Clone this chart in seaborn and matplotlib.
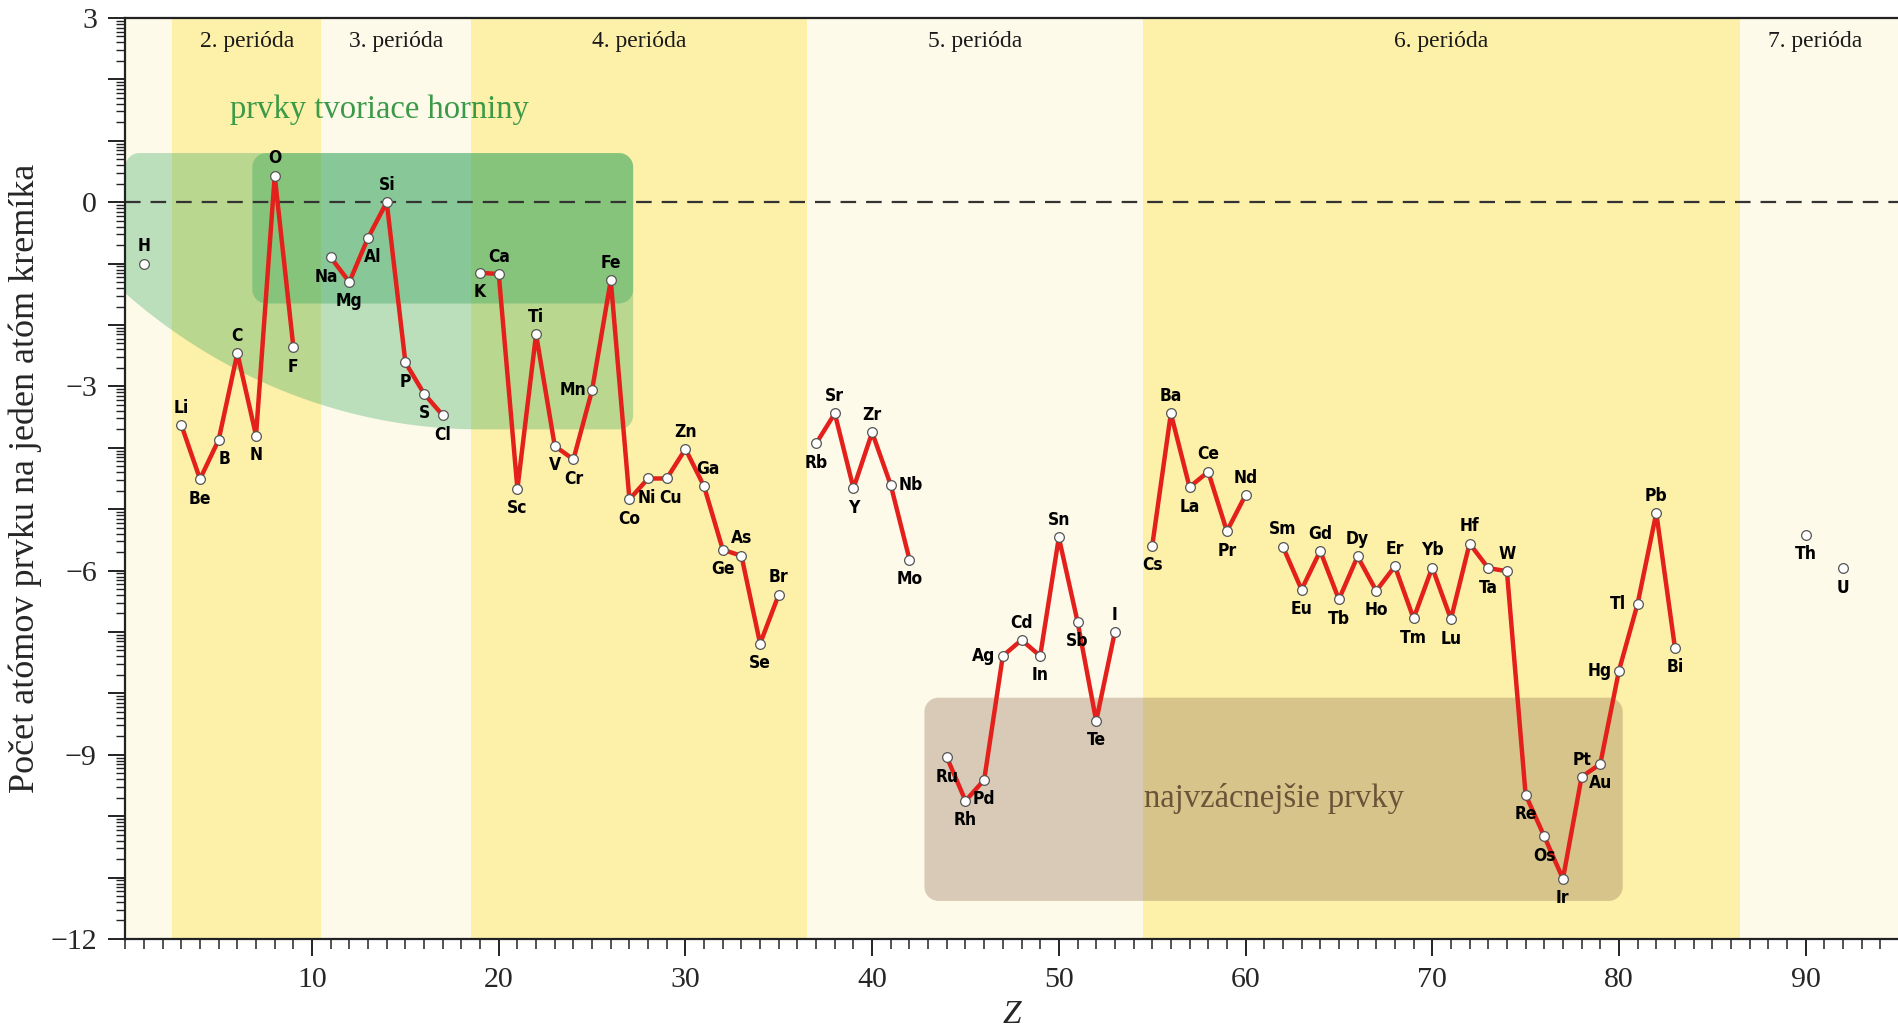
import numpy as np
import pandas as pd
import matplotlib
matplotlib.use("Agg")
import matplotlib.pyplot as plt
import seaborn as sns
from matplotlib import font_manager
from matplotlib.patches import Polygon
from matplotlib.ticker import FixedLocator, MultipleLocator, FuncFormatter

# atomic numbers, symbols and log10(atoms per one Si atom)
z = [1,
     3, 4, 5, 6, 7, 8, 9,
     11, 12, 13, 14, 15, 16, 17,
     19, 20, 21, 22, 23, 24, 25, 26, 27, 28, 29, 30, 31, 32, 33, 34, 35,
     37, 38, 39, 40, 41, 42,
     44, 45, 46, 47, 48, 49, 50, 51, 52, 53,
     55, 56, 57, 58, 59, 60,
     62, 63, 64, 65, 66, 67, 68, 69, 70, 71, 72, 73, 74, 75, 76, 77, 78,
     79, 80, 81, 82, 83,
     90, 92]
symbols = ["H",
           "Li", "Be", "B", "C", "N", "O", "F",
           "Na", "Mg", "Al", "Si", "P", "S", "Cl",
           "K", "Ca", "Sc", "Ti", "V", "Cr", "Mn", "Fe", "Co", "Ni", "Cu", "Zn",
           "Ga", "Ge", "As", "Se", "Br",
           "Rb", "Sr", "Y", "Zr", "Nb", "Mo",
           "Ru", "Rh", "Pd", "Ag", "Cd", "In", "Sn", "Sb", "Te", "I",
           "Cs", "Ba", "La", "Ce", "Pr", "Nd",
           "Sm", "Eu", "Gd", "Tb", "Dy", "Ho", "Er", "Tm", "Yb", "Lu", "Hf",
           "Ta", "W", "Re", "Os", "Ir", "Pt", "Au", "Hg", "Tl", "Pb", "Bi",
           "Th", "U"]
values = [-1.00,
          -3.63, -4.51, -3.87, -2.46, -3.80, 0.43, -2.36,
          -0.90, -1.30, -0.58, 0.00, -2.61, -3.12, -3.47,
          -1.15, -1.17, -4.67, -2.15, -3.97, -4.19, -3.06, -1.27, -4.84, -4.50,
          -4.50, -4.02, -4.63, -5.66, -5.76, -7.19, -6.39,
          -3.93, -3.44, -4.66, -3.75, -4.61, -5.82,
          -9.04, -9.75, -9.41, -7.39, -7.13, -7.39, -5.46, -6.83, -8.45, -7.00,
          -5.60, -3.44, -4.64, -4.39, -5.36, -4.77,
          -5.61, -6.31, -5.68, -6.47, -5.77, -6.33, -5.93, -6.78, -5.95, -6.79,
          -5.56, -5.96, -6.01, -9.65, -10.33, -11.02, -9.36, -9.15, -7.63,
          -6.54, -5.06, -7.26,
          -5.42, -5.96]

# period bands
band_edges = [0, 2.5, 10.5, 18.5, 36.5, 54.5, 86.5, 95]
period_names = ["2. perióda", "3. perióda", "4. perióda", "5. perióda",
                "6. perióda", "7. perióda"]
period_label_x = [6.5, 14.5, 27.5, 45.5, 70.5, 90.5]

x_ticks = [10, 20, 30, 40, 50, 60, 70, 80, 90]
y_tick_labels = [-12, -9, -6, -3, 0, 3]

# label placement (style only)
below = {"Be", "B", "N", "F", "Na", "Mg", "Al", "P", "S", "Cl", "K", "Sc", "V",
         "Cr", "Co", "Ni", "Cu", "Ge", "Se", "Rb", "Y", "Mo", "Ru", "Rh", "Pd",
         "In", "Sb", "Te", "Cs", "La", "Pr", "Eu", "Tb", "Ho", "Tm", "Lu", "Ta",
         "Re", "Os", "Ir", "Au", "Bi", "Th", "U"}
left = {"Mn", "Ag", "Hg", "Tl"}
right = {"Nb"}
nudge = {"B": 4, "Ni": -1, "Cu": 3, "Ga": 3, "Al": 3, "Na": -3}

sns.set_style("ticks")
serif = ["Liberation Serif", "DejaVu Serif"]
plt.rcParams["font.family"] = serif
plt.rcParams["axes.unicode_minus"] = True

installed = {f.name for f in font_manager.fontManager.ttflist}
if "Liberation Sans Narrow" in installed:
    label_font = dict(family=["Liberation Sans Narrow", "DejaVu Sans"], fontsize=14)
else:
    label_font = dict(family=["DejaVu Sans"], fontstretch="condensed", fontsize=12.5)

fig = plt.figure(figsize=(18.99, 10.28), dpi=100)
ax = fig.add_axes([0.066, 0.0866, 0.934, 0.8959])
ax.set_xlim(0, 95)
ax.set_ylim(-12, 3)

# background bands
band_colors = ["#fefaea", "#fdf0a9"]
for i in range(len(band_edges) - 1):
    ax.axvspan(band_edges[i], band_edges[i + 1], color=band_colors[i % 2],
               lw=0, zorder=0)

# pixel-size of the axes in data units, for rounded corners
px_x = 95 / (0.934 * 1899)
px_y = 15 / (0.8959 * 1028)


def corner(cx, cy, rx, ry, a0, a1, n=12):
    t = np.linspace(np.radians(a0), np.radians(a1), n)
    return list(zip(cx + rx * np.cos(t), cy + ry * np.sin(t)))


def rounded_box(x0, x1, y0, y1, r=14):
    rx, ry = r * px_x, r * px_y
    pts = []
    pts += corner(x1 - rx, y0 + ry, rx, ry, -90, 0)
    pts += corner(x1 - rx, y1 - ry, rx, ry, 0, 90)
    pts += corner(x0 + rx, y1 - ry, rx, ry, 90, 180)
    pts += corner(x0 + rx, y0 + ry, rx, ry, 180, 270)
    return pts


green = "#2ea35a"
# rock-forming elements: large light shape with curved lower-left edge
rx, ry = 14 * px_x, 14 * px_y
gx1, gy0, gy1 = 27.2, -3.7, 0.8
curve_z = np.linspace(0, 19, 60)
curve_y = 6.1 - 9.8 * np.sqrt(1 - ((curve_z - 19) / 30) ** 2)
shape = []
shape += corner(rx, gy1 - ry, rx, ry, 90, 180)
shape += list(zip(curve_z, curve_y))
shape += corner(gx1 - rx, gy0 + ry, rx, ry, -90, 0)
shape += corner(gx1 - rx, gy1 - ry, rx, ry, 0, 90)
ax.add_patch(Polygon(shape, closed=True, fc=green, alpha=0.32, lw=0, zorder=1))
ax.add_patch(Polygon(rounded_box(6.8, gx1, -1.65, gy1), closed=True, fc=green,
                     alpha=0.36, lw=0, zorder=1))

# rarest elements box
ax.add_patch(Polygon(rounded_box(42.8, 80.2, -11.38, -8.07), closed=True,
                     fc="#8c6b4c", alpha=0.33, lw=0, zorder=1))

ax.axhline(0, color="#333333", lw=1.6, ls=(0, (7, 4.5)), zorder=2)

# abundance line, split where elements are missing
df = pd.DataFrame({"Z": z, "value": values, "symbol": symbols})
df["segment"] = (df["Z"].diff() != 1).cumsum()
sns.lineplot(data=df, x="Z", y="value", units="segment", estimator=None,
             sort=False, color="#e3201b", lw=3.2, marker="o", markersize=7,
             markerfacecolor="white", markeredgecolor="#555555",
             markeredgewidth=0.9, legend=False, ax=ax, zorder=3)

for _, row in df.iterrows():
    s = row["symbol"]
    if s in below:
        dx, dy = 0, -14
    elif s in left:
        dx, dy = -14, 0
    elif s in right:
        dx, dy = 14, 0
    else:
        dx, dy = 0, 12.5
    dx += nudge.get(s, 0)
    ax.annotate(s, (row["Z"], row["value"]), xytext=(dx, dy),
                textcoords="offset points", ha="center", va="center",
                fontweight="bold", color="black", zorder=4, **label_font)

for name, px in zip(period_names, period_label_x):
    ax.text(px, 2.62, name, ha="center", va="center", fontsize=17,
            color="#1a1a1a", zorder=4)

ax.text(13.6, 1.51, "prvky tvoriace horniny", ha="center", va="center",
        fontsize=23.5, color="#3a9a48", zorder=4)
ax.text(61.5, -9.72, "najvzácnejšie prvky", ha="center", va="center",
        fontsize=23.5, color="#6b5238", zorder=4)

# axes, ticks
ax.xaxis.set_major_locator(FixedLocator(x_ticks))
ax.xaxis.set_minor_locator(MultipleLocator(1))
ax.yaxis.set_major_locator(MultipleLocator(1))
minor_y = [n + np.log10(k) for n in range(-12, 3) for k in range(2, 10)]
ax.yaxis.set_minor_locator(FixedLocator(minor_y))
ax.yaxis.set_major_formatter(FuncFormatter(
    lambda v, p: f"{int(round(v))}".replace("-", "\u2212")
    if int(round(v)) in y_tick_labels else ""))

ax.tick_params(axis="both", which="major", direction="out", length=12.5,
               width=1.4, color="#222222", labelsize=21.5, pad=8)
ax.tick_params(axis="x", which="minor", direction="out", length=7, width=1.1,
               color="#222222")
ax.tick_params(axis="y", which="minor", direction="out", length=6.5, width=1.0,
               color="#222222")

for side in ["left", "bottom", "top"]:
    ax.spines[side].set_visible(True)
    ax.spines[side].set_color("#222222")
    ax.spines[side].set_linewidth(1.6)
ax.spines["right"].set_visible(False)

ax.set_ylabel("Počet atómov prvku na jeden atóm kremíka", fontsize=26)
ax.yaxis.set_label_coords(-0.047, 0.5)
ax.set_xlabel("Z", fontsize=24, style="italic")
ax.xaxis.set_label_coords(0.5, -0.066)

fig.savefig("out.png", dpi=100)
